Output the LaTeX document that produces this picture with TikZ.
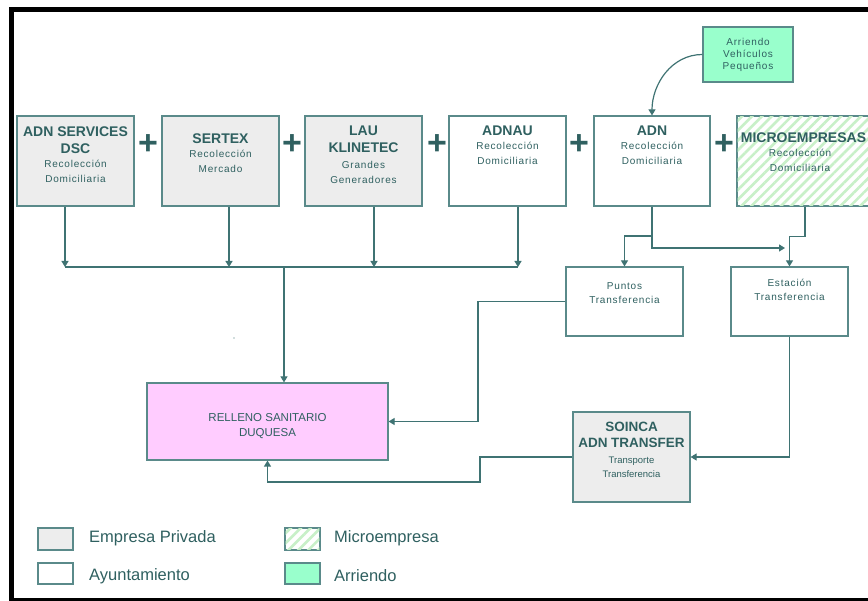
\documentclass[tikz,border=0pt]{standalone}
\usepackage{fontspec}
\setmainfont{Liberation Sans}
\usetikzlibrary{arrows.meta,patterns.meta}
\definecolor{edge}{HTML}{5A8A8A}
\definecolor{conncol}{HTML}{3F7373}
\definecolor{txt}{HTML}{2F6060}
\definecolor{graybox}{HTML}{EDEDED}
\definecolor{pinkbox}{HTML}{FFCCFF}
\definecolor{greenbox}{HTML}{99FFCC}
\definecolor{hatchcol}{HTML}{C8F0C8}
\newcommand\ttlfont{\fontsize{14}{17}\selectfont\bfseries}
\newcommand\subfont{\fontsize{10}{15}\selectfont\addfontfeature{LetterSpace=8}}
\tikzset{
  box/.style={draw=edge, line width=1.2pt, rectangle, inner sep=0pt},
  ttl/.style={font=\ttlfont, text=txt, align=center, anchor=north, inner sep=0pt},
  sbt/.style={font=\subfont, text=txt, align=center, anchor=north, inner sep=0pt},
  conn/.style={draw=conncol, line width=1.2pt},
  arr/.style={conn, -{Triangle[length=6pt,width=7pt]}},
  plus/.style={font=\fontsize{34}{34}\selectfont\bfseries, text=txt, inner sep=0pt},
  legtxt/.style={font=\fontsize{16.5}{18}\selectfont, text=txt, anchor=west, inner sep=0pt},
  hatch/.style={pattern={Lines[angle=45,distance=7pt,line width=2.6pt]}, pattern color=hatchcol}
}
\begin{document}
\begin{tikzpicture}[x=1pt,y=-1pt]
\useasboundingbox (0,0) rectangle (868,601);
\clip (0,0) rectangle (868,601);
\fill[white] (0,0) rectangle (868,601);
% frame
\fill[black] (9,7) rectangle (868,12);
\fill[black] (9,7) rectangle (14,601);
\fill[black] (9,598) rectangle (868,600.5);

% top row boxes
\node[box, fill=graybox, minimum width=117pt, minimum height=90pt] (adnserv) at (75.5,161) {};
\node[box, fill=graybox, minimum width=117pt, minimum height=90pt] (sertex) at (220.5,161) {};
\node[box, fill=graybox, minimum width=117pt, minimum height=90pt] (lau) at (363.5,161) {};
\node[box, fill=white, minimum width=117pt, minimum height=90pt] (adnau) at (507.5,161) {};
\node[box, fill=white, minimum width=116pt, minimum height=90pt] (adn) at (652,161) {};
\node[box, fill=white, minimum width=143pt, minimum height=90pt] (micro) at (808.5,161) {};
\fill[hatch] (737.6,116.6) rectangle (868,205.4);
\node[box, fill=greenbox, minimum width=90pt, minimum height=55pt] (arriendo) at (748,54.5) {};

% texts top row
\node[ttl] (t1) at (75.5,127) {ADN SERVICES\\DSC};
\node[sbt] (s1) at (75.5,160) {Recolección\\Domiciliaria};
\node[ttl] (t2) at (220.5,134) {SERTEX};
\node[sbt] (s2) at (220.5,150) {Recolección\\Mercado};
\node[ttl] (t3) at (363.5,126) {LAU\\KLINETEC};
\node[sbt] (s3) at (363.5,161) {Grandes\\Generadores};
\node[ttl] (t4) at (507.5,126) {ADNAU};
\node[sbt] (s4) at (507.5,142) {Recolección\\Domiciliaria};
\node[ttl] (t5) at (652,126) {ADN};
\node[sbt] (s5) at (652,142) {Recolección\\Domiciliaria};
\node[ttl] (t6) at (803.5,133) {MICROEMPRESAS};
\node[sbt] (s6) at (800,149) {Recolección\\Domiciliaria};
\node[sbt, font=\fontsize{10}{12}\selectfont\addfontfeature{LetterSpace=8}] (s7) at (748,38) {Arriendo\\Vehículos\\Pequeños};

% plus signs
\foreach \px/\pn in {148/p1,292/p2,437/p3,579/p4,724/p5}
  \node[plus] (\pn) at (\px,145) {+};

% middle boxes
\node[box, fill=white, minimum width=117pt, minimum height=69pt] (puntos) at (624.5,301.5) {};
\node[box, fill=white, minimum width=117pt, minimum height=69pt] (estacion) at (789.5,301.5) {};
\node[sbt, font=\fontsize{10}{14}\selectfont\addfontfeature{LetterSpace=8}] (s8) at (624.5,282) {Puntos\\Transferencia};
\node[sbt, font=\fontsize{10}{14}\selectfont\addfontfeature{LetterSpace=8}] (s9) at (789.5,279) {Estación\\Transferencia};

% bottom boxes
\node[box, fill=pinkbox, minimum width=241pt, minimum height=77pt] (relleno) at (267.5,421.5) {};
\node[sbt, font=\fontsize{11.5}{15}\selectfont] (s10) at (267.5,413) {RELLENO SANITARIO\\DUQUESA};
\node[box, fill=graybox, minimum width=117pt, minimum height=90pt] (soinca) at (631.5,457) {};
\node[ttl, font=\fontsize{13.5}{16}\selectfont\bfseries] (t11) at (631.5,422) {SOINCA\\ADN TRANSFER};
\node[sbt, font=\fontsize{9.5}{14}\selectfont] (s11) at (631.5,457) {Transporte\\Transferencia};

% connectors to bus
\coordinate (bus) at (0,267);
\coordinate (busdrop) at (284,267);
\draw[arr] ([xshift=-10.5pt]adnserv.south) -- ([xshift=-10.5pt]adnserv.south |- bus);
\draw[arr] ([xshift=8.5pt]sertex.south) -- ([xshift=8.5pt]sertex.south |- bus);
\draw[arr] ([xshift=10.5pt]lau.south) -- ([xshift=10.5pt]lau.south |- bus);
\draw[arr] ([xshift=10.5pt]adnau.south) -- ([xshift=10.5pt]adnau.south |- bus);
\draw[conn] ([xshift=-10.5pt]adnserv.south |- bus) -- ([xshift=10.5pt]adnau.south |- bus);
\draw[arr] (busdrop) -- (busdrop |- relleno.north);

% ADN and micro branches
\coordinate (j1) at (652,236);
\coordinate (j2) at (785,248);
\draw[arr] (adn.south) -- (j1) -| (puntos.north);
\draw[arr] (j1) |- (j2);
\draw[arr] ([xshift=-3.5pt]micro.south) -- ++(0,30) -| (estacion.north);

% arriendo curve
\draw[arr] (arriendo.west) to[out=180,in=90] (adn.north);

% to relleno
\coordinate (pk) at (478,301.5);
\draw[arr] (puntos.west) -- (pk) |- (relleno.east);
\draw[arr] (estacion.south) |- (soinca.east);
\coordinate (sk) at (480,482);
\draw[arr] (soinca.west) -| (sk) -| (relleno.south);

% small dot
\fill[conncol] (234,338) circle (0.7);

% legend
\node[box, fill=graybox, minimum width=35pt, minimum height=22pt] (lg1) at (55.5,539) {};
\node[box, fill=white, minimum width=35pt, minimum height=21pt] (lg2) at (55.5,573.5) {};
\node[box, fill=white, minimum width=35pt, minimum height=22pt] (lg3) at (302.5,539) {};
\fill[hatch] (285.6,528.6) rectangle (319.4,549.4);
\node[box, fill=greenbox, minimum width=35pt, minimum height=21pt] (lg4) at (302.5,573.5) {};
\node[legtxt] (lt1) at (89,538) {Empresa Privada};
\node[legtxt] (lt2) at (89,576) {Ayuntamiento};
\node[legtxt] (lt3) at (334,538) {Microempresa};
\node[legtxt] (lt4) at (334,576) {Arriendo};
\end{tikzpicture}
\end{document}
